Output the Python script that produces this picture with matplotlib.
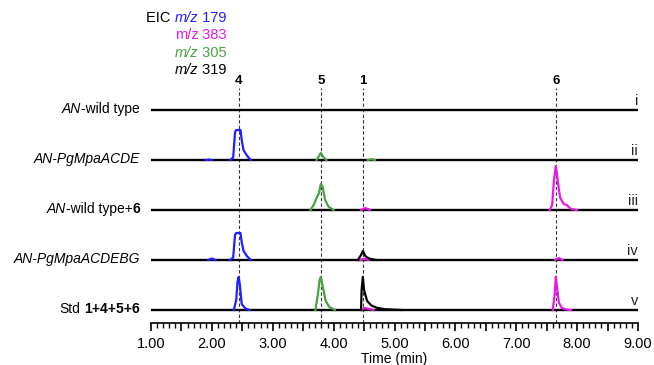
import matplotlib
matplotlib.use('Agg')
import matplotlib.pyplot as plt
from matplotlib.ticker import MultipleLocator, FuncFormatter
from matplotlib.transforms import IdentityTransform

plt.rcParams['font.family'] = ['Liberation Sans', 'DejaVu Sans']

BLUE = '#1f1fff'
MAGENTA = '#e619e6'
GREEN = '#47a23f'
BLACK = '#000000'

# ordem de cima para baixo: i .. v
linhas = ['i', 'ii', 'iii', 'iv', 'v']
rotulos = [
    [('AN', 'italic'), ('-wild type', 'normal')],
    [('AN-PgMpaACDE', 'italic')],
    [('AN', 'italic'), ('-wild type+', 'normal'), ('6', 'bold')],
    [('AN-PgMpaACDEBG', 'italic')],
    [('Std', 'normal'), (' ', 'normal'), ('1+4+5+6', 'bold')],
]

picos_nome = ['4', '5', '1', '6']
picos_tempo = [2.44, 3.79, 4.48, 7.66]

# tracos: (linha, cor, tempos, intensidade em % do espacamento)
tracos = [
    # ii
    ('ii', BLUE, [1.90, 1.95, 2.00], [0, 0.8, 0]),
    ('ii', BLUE, [2.30, 2.35, 2.38, 2.40, 2.47, 2.49, 2.52, 2.58, 2.64],
     [0, 5, 55, 60, 60, 40, 20, 8, 0]),
    ('ii', GREEN, [3.72, 3.76, 3.79, 3.83, 3.88], [0, 8, 14, 6, 0]),
    ('ii', GREEN, [4.56, 4.62, 4.68], [0, 1.5, 0]),
    # iii
    ('iii', GREEN, [3.62, 3.68, 3.72, 3.76, 3.79, 3.82, 3.86, 3.92, 4.00],
     [0, 12, 24, 34, 52, 46, 20, 6, 0]),
    ('iii', MAGENTA, [4.45, 4.52, 4.60], [0, 4, 0]),
    ('iii', MAGENTA, [7.55, 7.59, 7.62, 7.65, 7.68, 7.72, 7.78, 7.83, 7.90, 8.00],
     [0, 10, 60, 88, 60, 25, 12, 10, 2, 0]),
    # iv
    ('iv', BLUE, [1.94, 2.00, 2.06], [0, 3, 0]),
    ('iv', BLUE, [2.30, 2.35, 2.38, 2.40, 2.47, 2.49, 2.52, 2.58, 2.64],
     [0, 5, 50, 54, 54, 36, 18, 7, 0]),
    ('iv', MAGENTA, [4.44, 4.50, 4.58], [0, 2.5, 0]),
    ('iv', BLACK, [4.40, 4.45, 4.48, 4.52, 4.58, 4.70], [0, 10, 18, 8, 3, 0]),
    ('iv', MAGENTA, [7.64, 7.70, 7.76], [0, 4, 0]),
    # v
    ('v', BLUE, [2.36, 2.40, 2.42, 2.44, 2.46, 2.49, 2.55, 2.62],
     [0, 20, 55, 66, 50, 12, 3, 0]),
    ('v', GREEN, [3.70, 3.74, 3.77, 3.79, 3.82, 3.87, 3.93, 4.02],
     [0, 30, 60, 66, 48, 18, 6, 0]),
    ('v', MAGENTA, [4.46, 4.50, 4.56, 4.65], [0, 4, 3, 0]),
    ('v', BLACK, [4.45, 4.46, 4.48, 4.50, 4.55, 4.62, 4.72, 4.85, 5.10],
     [0, 40, 66, 40, 18, 9, 4, 1.5, 0]),
    ('v', MAGENTA, [7.60, 7.63, 7.65, 7.67, 7.70, 7.75, 7.82, 7.90],
     [0, 30, 66, 45, 15, 4, 1, 0]),
]

legenda = [
    [('EIC ', BLACK, 'normal'), ('m/z', BLUE, 'italic'), (' 179', BLUE, 'normal')],
    [('m/z', MAGENTA, 'normal'), (' 383', MAGENTA, 'normal')],
    [('m/z', GREEN, 'italic'), (' 305', GREEN, 'normal')],
    [('m/z', BLACK, 'italic'), (' 319', BLACK, 'normal')],
]

W, H = 654, 365
fig = plt.figure(figsize=(W / 100, H / 100), dpi=100)
ax = fig.add_axes([151 / W, 42 / H, (638 - 151) / W, (H - 42) / H])
ax.set_xlim(1, 9)
ax.set_ylim(-0.26, 6.2)

deslocamento = {nome: 4 - i for i, nome in enumerate(linhas)}

for nome_pico, t in zip(picos_nome, picos_tempo):
    ax.plot([t, t], [-0.26, 4.44], color='#333333', lw=0.8, ls=(0, (3, 2)), zorder=1)
    ax.text(t, 4.58, nome_pico, ha='center', va='center', fontsize=9.5, fontweight='bold')

ax.hlines([deslocamento[n] for n in linhas], 1, 9, color='black', lw=1.7, zorder=2)

for linha, cor, tempos, alturas in tracos:
    y0 = deslocamento[linha]
    ax.plot(tempos, [y0 + a / 100 for a in alturas], color=cor, lw=1.6, zorder=3)

for nome in linhas:
    ax.text(9, deslocamento[nome] + 0.1, nome, ha='right', va='baseline', fontsize=10.5, color='#222222')

for s in ['left', 'right', 'top']:
    ax.spines[s].set_visible(False)
ax.spines['bottom'].set_linewidth(1.2)
ax.set_yticks([])
ax.xaxis.set_major_locator(MultipleLocator(0.5))
ax.xaxis.set_minor_locator(MultipleLocator(0.1))
ax.xaxis.set_major_formatter(FuncFormatter(lambda v, p: f'{v:.2f}' if abs(v - round(v)) < 1e-6 else ''))
ax.tick_params(axis='x', which='major', length=6, width=1.2, pad=4, labelsize=10.5)
ax.tick_params(axis='x', which='minor', length=3.5, width=1.0)
ax.set_xlabel('Time (min)', fontsize=10, labelpad=0.5)

renderer = fig.canvas.get_renderer()


def texto_direita(x, y, pecas, tamanho):
    # escreve pedacos com estilos diferentes alinhados a direita, em pixels
    for s, cor, estilo in reversed(pecas):
        kw = {'fontweight': 'bold'} if estilo == 'bold' else {'fontstyle': estilo}
        t = fig.text(x, y, s, ha='right', va='center', fontsize=tamanho, color=cor,
                     transform=IdentityTransform(), **kw)
        x -= t.get_window_extent(renderer).width


for i, pecas in enumerate(rotulos):
    _, yd = ax.transData.transform((1, deslocamento[linhas[i]]))
    texto_direita(140, yd + 1, [(s, BLACK, e) for s, e in pecas], 10)

for i, pecas in enumerate(legenda):
    texto_direita(227, H - (18 + 17.3 * i), pecas, 10.5)

fig.savefig('out.png', dpi=100)
